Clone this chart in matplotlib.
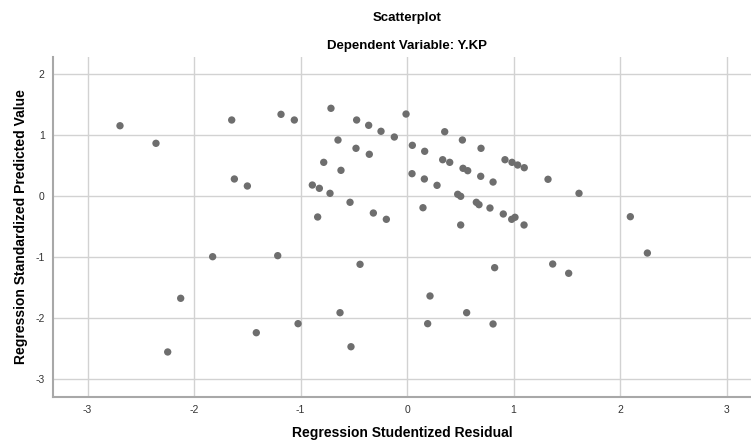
import matplotlib.pyplot as plt
import numpy as np

plt.rcParams['font.family'] = ['Liberation Sans', 'DejaVu Sans']
plt.rcParams['axes.unicode_minus'] = False

# studentized residual (x) vs standardized predicted value (y)
resid = [-2.695, -2.357, -1.646, -1.183, -1.058, -1.621, -1.499,
         -0.714, -0.009, -0.473, -0.360, -0.244, -0.119, -0.648, -0.479,
         -0.354, -0.782, -0.620, -0.889, -0.823, -0.723, -0.535, -0.839,
         -0.316, -0.194, 0.050, 0.166, 0.354, 0.520, 0.695, 0.335, 0.401,
         0.526, 0.570, 0.920, 0.986, 1.039, 1.101, 0.047, 0.163, 0.282,
         0.692, 0.808, 0.476, 0.504, 0.651, 0.676, 0.779, 0.904, 0.983,
         1.014, 1.099, 0.150, 0.504, 1.324, 1.615, 2.097,
         -1.825, -1.214, -2.125, -1.415, -1.023, -2.247,
         -0.441, -0.629, -0.526, 0.823, 0.216, 0.560, 0.194, 0.808,
         1.368, 1.518, 2.257]
pred = [1.157, 0.869, 1.251, 1.344, 1.251, 0.284, 0.169,
        1.443, 1.349, 1.251, 1.164, 1.066, 0.972, 0.923, 0.787,
        0.689, 0.557, 0.426, 0.185, 0.131, 0.049, -0.098, -0.339,
        -0.274, -0.377, 0.836, 0.738, 1.059, 0.923, 0.787, 0.600, 0.557,
        0.459, 0.420, 0.600, 0.557, 0.513, 0.469, 0.371, 0.284, 0.180,
        0.328, 0.234, 0.033, 0.000, -0.098, -0.137, -0.192, -0.290, -0.377,
        -0.344, -0.470, -0.187, -0.470, 0.279, 0.049, -0.334,
        -0.990, -0.973, -1.672, -2.236, -2.088, -2.552,
        -1.115, -1.908, -2.466, -1.170, -1.634, -1.908, -2.088, -2.093,
        -1.110, -1.262, -0.930]
xticks = [-3, -2, -1, 0, 1, 2, 3]
yticks = [-3, -2, -1, 0, 1, 2]

fig = plt.figure(figsize=(7.51, 4.43), dpi=100)
ax = fig.add_axes([53/751, 1 - 396.5/443, 1 - 53/751, (396.5 - 57)/443])

ax.scatter(resid, pred, s=28, color='#6e6e6e', edgecolors='none', zorder=3)

ax.set_xticks(xticks)
ax.set_yticks(yticks)
ax.set_xlim(-3.324, 3.23)
ax.set_ylim(-3.282, 2.284)
ax.grid(True, color='#d2d2d2', linewidth=1.0)
ax.set_axisbelow(True)
ax.tick_params(length=0, labelsize=7.5, labelcolor='#333333', pad=6)

for s in ['top', 'right']:
    ax.spines[s].set_visible(False)
for s in ['left', 'bottom']:
    ax.spines[s].set_color('#a8a8a8')
    ax.spines[s].set_linewidth(1.5)

ax.set_xlabel("Regression Studentized Residual", fontsize=10, fontweight='bold', labelpad=8)
ax.set_ylabel("Regression Standardized Predicted Value", fontsize=10, fontweight='bold', labelpad=5)

fig.text(407/751, 1 - 18/443, "Scatterplot", ha='center', va='center', fontsize=9.5, fontweight='bold')
fig.text(407/751, 1 - 46/443, "Dependent Variable: Y.KP", ha='center', va='center', fontsize=9.5, fontweight='bold')

fig.savefig("out.png", dpi=100)
